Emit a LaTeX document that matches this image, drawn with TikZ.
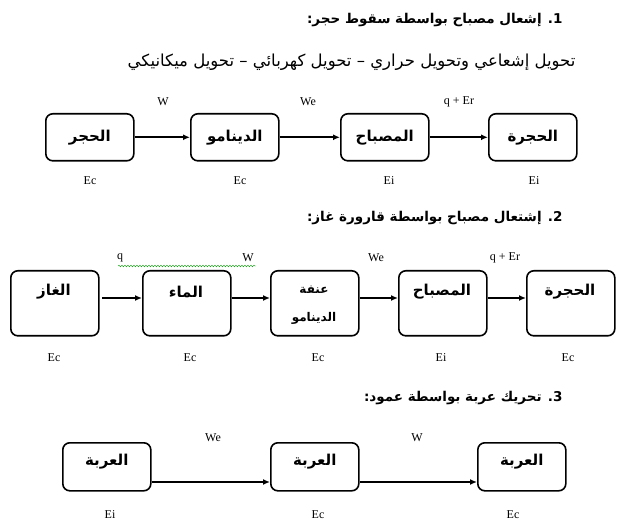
\documentclass[tikz,border=0pt]{standalone}
\usepackage{fontspec}
\setmainfont{Liberation Serif}
\newfontfamily\arabicfont[Script=Arabic]{DejaVu Sans}
\TeXXeTstate=1
\usetikzlibrary{arrows.meta,decorations.pathmorphing}
\begin{document}
\begin{tikzpicture}[x=1pt,y=-1pt,
  bx/.style={draw,line width=1.6pt,rounded corners=7pt,minimum width=88pt,anchor=north west,inner sep=0pt},
  ar/.style={-{Latex[length=7pt,width=6pt]},line width=1.6pt},
  lb/.style={font=\fontsize{12}{14}\selectfont},
  ab/.style={font=\arabicfont\bfseries\fontsize{15}{18}\selectfont},
  tt/.style={font=\arabicfont\bfseries\fontsize{13.5}{16}\selectfont,anchor=east}]
\useasboundingbox (0,0) rectangle (624,529);
\node[tt] (t1) at (566,20) {\beginR 1. إشعال مصباح بواسطة سقوط حجر:\endR};
\node[font=\arabicfont\fontsize{16.5}{19}\selectfont,anchor=east] (t0) at (579,62) {\beginR تحويل إشعاعي وتحويل حراري – تحويل كهربائي – تحويل ميكانيكي\endR};
% row 1
\foreach \n/\x/\t in {a1/45/الحجر,a2/190/الدينامو,a3/340/المصباح,a4/488/الحجرة}{
  \node[bx,minimum height=47pt,ab] (\n) at (\x,113) {\beginR\t\endR};}
\draw[ar] (a1) -- (a2); \draw[ar] (a2) -- (a3); \draw[ar] (a3) -- (a4);
\node[lb] (w1) at (163,102) {W}; \node[lb] (w2) at (308,102) {We}; \node[lb] (w3) at (459,102) {q + Er};
\foreach \n/\x/\t in {e1/90/Ec,e2/240/Ec,e3/389/Ei,e4/534/Ei}{\node[lb] (\n) at (\x,181) {\t};}
% row 2
\node[tt] (t2) at (566,218) {\beginR 2. إشتعال مصباح بواسطة قارورة غاز:\endR};
\foreach \n/\x in {b1/10,b2/142,b3/270,b4/398,b5/526}{
  \node[bx,minimum height=65pt] (\n) at (\x,270) {};}
\node[ab] at (54,292) {\beginR الغاز\endR};
\node[ab] at (186,292) {\beginR الماء\endR};
\node[font=\arabicfont\bfseries\fontsize{12}{14}\selectfont] at (314,290) {\beginR عنفة\endR};
\node[font=\arabicfont\bfseries\fontsize{12}{14}\selectfont] at (314,318) {\beginR الدينامو\endR};
\node[ab] at (442,292) {\beginR المصباح\endR};
\node[ab] at (570,292) {\beginR الحجرة\endR};
\coordinate (s0) at (102,298);
\draw[ar] (s0) -- (b2.west|-s0);
\draw[ar] (b2.east|-s0) -- (b3.west|-s0);
\draw[ar] (b3.east|-s0) -- (b4.west|-s0);
\draw[ar] (b4.east|-s0) -- (b5.west|-s0);
\node[lb] (q2) at (120,258) {q}; \node[lb] (w22) at (248,258) {W};
\node[lb] (w23) at (376,258) {We}; \node[lb] (w24) at (505,258) {q + Er};
\draw[green!60!black,decorate,decoration={snake,amplitude=0.8pt,segment length=3pt}] (118,266) -- (256,266);
\foreach \n/\x/\t in {f1/54/Ec,f2/190/Ec,f3/318/Ec,f4/441/Ei,f5/568/Ec}{\node[lb] (\n) at (\x,358) {\t};}
% row 3
\node[tt] (t3) at (566,398) {\beginR 3. تحريك عربة بواسطة عمود:\endR};
\foreach \n/\x in {c1/62,c2/270,c3/477}{
  \node[bx,minimum height=48pt] (\n) at (\x,442) {};
  \node[ab] at ([yshift=-20pt]\n.north) {\beginR العربة\endR};}
\coordinate (s3) at (0,482);
\draw[ar] (c1.east|-s3) -- (c2.west|-s3);
\draw[ar] (c2.east|-s3) -- (c3.west|-s3);
\node[lb] (w31) at (213,438) {We}; \node[lb] (w32) at (417,438) {W};
\foreach \n/\x/\t in {g1/110/Ei,g2/318/Ec,g3/513/Ec}{\node[lb] (\n) at (\x,515) {\t};}
\end{tikzpicture}
\end{document}
